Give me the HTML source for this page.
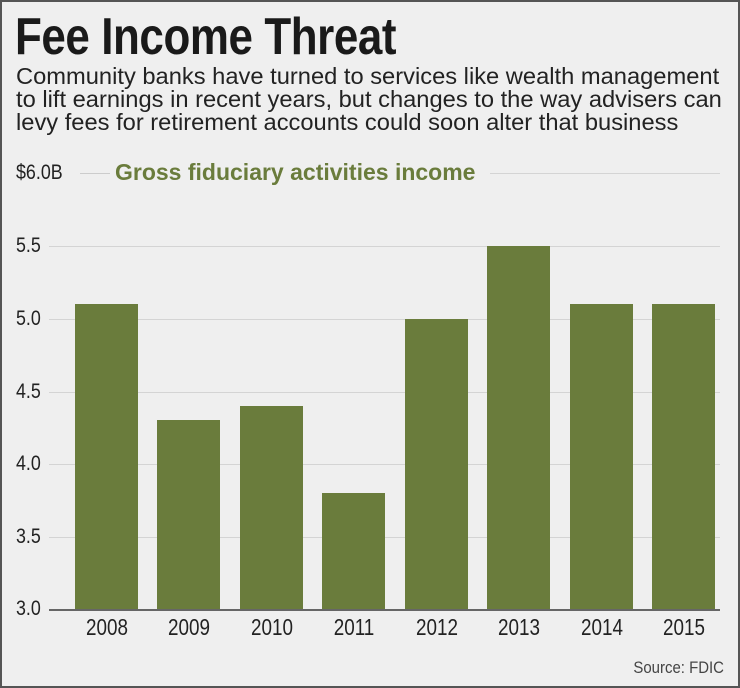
<!DOCTYPE html>
<html><head><style>
body{margin:0;background:#fff}
#c{position:relative;width:736px;height:684px;border:2px solid #555;background:#efefef;overflow:hidden;font-family:"Liberation Sans",sans-serif}
.t{position:absolute;white-space:nowrap}
.grid{position:absolute;height:1px;background:#d4d4d4}
.yl{position:absolute;left:14px;font-size:21px;color:#222;transform:scaleX(.85);transform-origin:left}
.bar{position:absolute;width:63px;background:#6a7c3c;bottom:77px}
.xl{position:absolute;top:612px;width:80px;text-align:center;font-size:23px;color:#222;transform:scaleX(.82)}
</style></head><body><div id="c">
<div class="t" style="left:13px;top:5px;font-size:52px;font-weight:bold;color:#1a1a1a;transform:scaleX(.845);transform-origin:left;letter-spacing:-0.5px">Fee Income Threat</div>
<div class="t" style="left:14px;top:63px;font-size:23px;line-height:22.8px;color:#222;transform:scaleX(1.03);transform-origin:left">Community banks have turned to services like wealth management<br>to lift earnings in recent years, but changes to the way advisers can<br>levy fees for retirement accounts could soon alter that business</div>
<div class="yl" style="top:159px">$6.0B</div>
<div style="position:absolute;left:78px;top:171px;width:30px;height:1px;background:#ccc"></div>
<div class="t" style="left:113px;top:157px;font-size:23px;font-weight:bold;color:#6a7c3c">Gross fiduciary activities income</div>
<div style="position:absolute;left:488px;top:171px;width:230px;height:1px;background:#d4d4d4"></div>
<div class="grid" style="left:47px;width:671px;top:244px"></div>
<div class="grid" style="left:47px;width:671px;top:317px"></div>
<div class="grid" style="left:47px;width:671px;top:390px"></div>
<div class="grid" style="left:47px;width:671px;top:462px"></div>
<div class="grid" style="left:47px;width:671px;top:535px"></div>
<div class="yl" style="top:232px">5.5</div>
<div class="yl" style="top:305px">5.0</div>
<div class="yl" style="top:378px">4.5</div>
<div class="yl" style="top:450px">4.0</div>
<div class="yl" style="top:523px">3.5</div>
<div class="yl" style="top:595px">3.0</div>
<div class="bar" style="left:73px;height:305px"></div>
<div class="bar" style="left:155px;height:189px"></div>
<div class="bar" style="left:238px;height:203px"></div>
<div class="bar" style="left:320px;height:116px"></div>
<div class="bar" style="left:403px;height:290px"></div>
<div class="bar" style="left:485px;height:363px"></div>
<div class="bar" style="left:568px;height:305px"></div>
<div class="bar" style="left:650px;height:305px"></div>
<div style="position:absolute;left:47px;top:607px;width:671px;height:2px;background:#666"></div>
<div class="xl" style="left:65px">2008</div>
<div class="xl" style="left:147px">2009</div>
<div class="xl" style="left:230px">2010</div>
<div class="xl" style="left:312px">2011</div>
<div class="xl" style="left:395px">2012</div>
<div class="xl" style="left:477px">2013</div>
<div class="xl" style="left:560px">2014</div>
<div class="xl" style="left:642px">2015</div>
<div class="t" style="right:14px;top:656px;font-size:17px;color:#444;transform:scaleX(.88);transform-origin:right">Source: FDIC</div>
</div></body></html>
